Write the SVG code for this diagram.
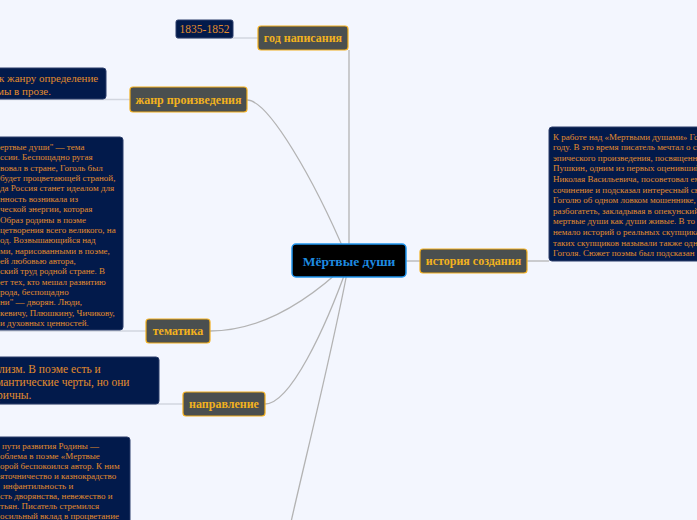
<svg xmlns="http://www.w3.org/2000/svg" width="697" height="520" viewBox="0 0 697 520">
<style>
.conn{fill:none;stroke:#b3b3b3;stroke-width:1.3}
.link{fill:none;stroke:#d2d6df;stroke-width:1.5}
.node rect{fill:#4a4f4f;stroke:#f2ae1c;stroke-width:1.2}
.lbl{font-family:"Liberation Serif",serif;font-weight:bold;font-size:12px;fill:#f2b21e;text-anchor:middle}
.box{fill:#021a4b;stroke:#2b3d6b;stroke-width:1}
.bt{font-family:"Liberation Serif",serif;font-size:9px;fill:#e38c2c}
.bt2{font-family:"Liberation Serif",serif;font-size:11px;fill:#e38c2c}
</style>
<rect x="0" y="0" width="697" height="520" fill="#f3f6fe"/>
<g id="connectors">
<path class="conn" d="M349,50 L349,262"/>
<path class="conn" d="M247,100 C268,100 314,178 349,262"/>
<path class="conn" d="M210,331 C270,331 320,290 349,262"/>
<path class="conn" d="M265,404 C290,404 325,330 349,262"/>
<path class="conn" d="M291,522 C305,460 335,340 349,262"/>
<path class="conn" d="M405,261 L420,261"/>
<path class="conn" d="M527,261 L549,261"/>
<path class="link" d="M177,38 L258,38"/>
<path class="link" d="M0,99.5 L130,99.5"/>
<path class="link" d="M0,331 L146,331"/>
<path class="link" d="M0,404 L183,404"/>
</g>
<g id="year-box">
<rect class="box" x="176" y="20" width="57" height="18" rx="2"/>
<text class="bt2" x="204.5" y="33" text-anchor="middle" style="font-size:11.5px">1835-1852</text>
</g>
<g id="node-year" class="node">
<rect x="258" y="26" width="90" height="24" rx="3"/>
<text class="lbl" x="303" y="42">год написания</text>
</g>
<g id="genre-box">
<rect class="box" x="-10" y="68" width="116" height="31" rx="3"/>
<text class="bt2" x="-1" y="82">к жанру определение</text>
<text class="bt2" x="-3" y="95">мы в прозе.</text>
</g>
<g id="node-genre" class="node">
<rect x="130" y="87" width="117" height="25" rx="3"/>
<text class="lbl" x="188.5" y="104">жанр произведения</text>
</g>
<g id="theme-box">
<rect class="box" x="-10" y="137" width="133" height="193" rx="3"/>
<text class="bt" x="0" y="150">ертвые души" — тема</text>
<text class="bt" x="0" y="160.4">ссии. Беспощадно ругая</text>
<text class="bt" x="0" y="170.7">вовал в стране, Гоголь был</text>
<text class="bt" x="0" y="181.1">будет процветающей страной,</text>
<text class="bt" x="0" y="191.4">да Россия станет идеалом для</text>
<text class="bt" x="0" y="201.8">нность возникала из</text>
<text class="bt" x="0" y="212.1">ческой энергии, которая</text>
<text class="bt" x="0" y="222.5">Образ родины в поэме</text>
<text class="bt" x="0" y="232.8">цетворения всего великого, на</text>
<text class="bt" x="0" y="243.2">од. Возвышающийся над</text>
<text class="bt" x="0" y="253.5">ми, нарисованными в поэме,</text>
<text class="bt" x="0" y="263.9">ей любовью автора,</text>
<text class="bt" x="0" y="274.2">ский труд родной стране. В</text>
<text class="bt" x="0" y="284.6">ет тех, кто мешал развитию</text>
<text class="bt" x="0" y="294.9">рода, беспощадно</text>
<text class="bt" x="0" y="305.3">ни" — дворян. Люди,</text>
<text class="bt" x="0" y="315.6">кевичу, Плюшкину, Чичикову,</text>
<text class="bt" x="0" y="326">и духовных ценностей.</text>
</g>
<g id="node-theme" class="node">
<rect x="146" y="319" width="64" height="24" rx="3"/>
<text class="lbl" x="178" y="335">тематика</text>
</g>
<g id="direction-box">
<rect class="box" x="-10" y="357" width="169" height="47" rx="3"/>
<text class="bt2" x="-1" y="373" style="font-size:11.5px">лизм. В поэме есть и</text>
<text class="bt2" x="-4" y="386" style="font-size:11.5px">мантические черты, но они</text>
<text class="bt2" x="-3" y="399" style="font-size:11.5px">ричны.</text>
</g>
<g id="node-direction" class="node">
<rect x="183" y="392" width="82" height="24" rx="3"/>
<text class="lbl" x="224" y="408">направление</text>
</g>
<g id="bottom-box">
<rect class="box" x="-10" y="437" width="140" height="100" rx="3"/>
<text class="bt" x="2" y="449">  пути развития Родины —</text>
<text class="bt" x="0" y="459">облема в поэме «Мертвые</text>
<text class="bt" x="0" y="469">орой беспокоился автор. К ним</text>
<text class="bt" x="0" y="479">яточничество и казнокрадство</text>
<text class="bt" x="3" y="489">инфантильность и</text>
<text class="bt" x="0" y="499">сть дворянства, невежество и</text>
<text class="bt" x="0" y="509">тьян. Писатель стремился</text>
<text class="bt" x="0" y="519">осильный вклад в процветание</text>
</g>
<g id="node-center">
<rect x="292" y="244" width="114" height="33" rx="4" fill="#000" stroke="#2196f0" stroke-width="1.5"/>
<text x="349" y="266" text-anchor="middle" font-family="Liberation Serif, serif" font-weight="bold" font-size="13.5" fill="#1e8be0">Мёртвые души</text>
</g>
<g id="node-history" class="node">
<rect x="420" y="249" width="107" height="24" rx="3"/>
<text class="lbl" x="473.5" y="265">история создания</text>
</g>
<g id="history-box">
<rect class="box" x="549" y="127" width="160" height="134" rx="3"/>
<text class="bt" x="553" y="139.5">К работе над «Мертвыми душами» Гоголь</text>
<text class="bt" x="553" y="150.1">году. В это время писатель мечтал о создании</text>
<text class="bt" x="553" y="160.7">эпического произведения, посвященного</text>
<text class="bt" x="553" y="171.3">Пушкин, одним из первых оценивший</text>
<text class="bt" x="553" y="181.9">Николая Васильевича, посоветовал ему</text>
<text class="bt" x="553" y="192.5">сочинение и подсказал интересный сюжет.</text>
<text class="bt" x="553" y="203.1">Гоголю об одном ловком мошеннике, который</text>
<text class="bt" x="553" y="213.7">разбогатеть, закладывая в опекунский совет</text>
<text class="bt" x="553" y="224.3">мертвые души как души живые. В то время</text>
<text class="bt" x="553" y="234.9">немало историй о реальных скупщиках</text>
<text class="bt" x="553" y="245.5">таких скупщиков называли также одного</text>
<text class="bt" x="553" y="256.1">Гоголя. Сюжет поэмы был подсказан</text>
</g>
</svg>
